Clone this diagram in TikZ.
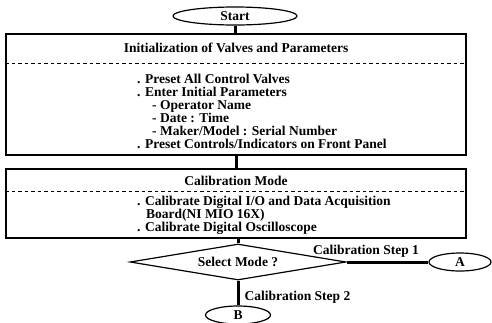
\documentclass[tikz,border=0pt]{standalone}
\usepackage{fontspec}
\setmainfont{Liberation Serif}
\usetikzlibrary{shapes.geometric}
\tikzstyle{procbox}=[
        draw,
        line width=1.4pt,
        minimum width=460pt,
        inner sep=0pt
]
\tikzstyle{terminal}=[
        draw,
        ellipse,
        line width=1.2pt,
        inner sep=0pt
]
\tikzstyle{link}=[
        line width=3pt
]
\tikzstyle{cutline}=[
        line width=1.1pt,
        dash pattern=on 3.5pt off 3pt
]

\begin{document}
\begin{tikzpicture}[x=1pt, y=-1pt, font=\fontsize{13.5}{13}\selectfont\bfseries]
                        \useasboundingbox (0,0) rectangle (492,322);

                        \node[terminal, minimum width=124pt, minimum height=18pt] (start) at (235,16) {Start};

                        % first block
                        \node[procbox, minimum height=121pt] (init) at (236,94.5) {};
                        \node (inittitle) at (236,48) {Initialization of Valves and Parameters};
                        \path (init.north west) ++(0,30) coordinate (cut1);
                        \draw[cutline] (cut1) -- (cut1 -| init.east);
                        \node[anchor=west, align=left, inner sep=0pt] (initlist) at (137,111) {%
                            . Preset All Control Valves\\
                            . Enter Initial Parameters\\
                            \hspace*{15pt}- Operator Name\\
                            \hspace*{15pt}- Date : Time\\
                            \hspace*{15pt}- Maker/Model : Serial Number\\
                            . Preset Controls/Indicators on Front Panel};

                        % second block
                        \node[procbox, minimum height=69pt] (calib) at (236,203.5) {};
                        \node (calibtitle) at (236,181) {Calibration Mode};
                        \path (calib.north west) ++(0,23) coordinate (cut2);
                        \draw[cutline] (cut2) -- (cut2 -| calib.east);
                        \node[anchor=west, align=left, inner sep=0pt] (caliblist) at (137,215) {%
                            . Calibrate Digital I/O and Data Acquisition\\
                            \hspace*{9pt}Board(NI MIO 16X)\\
                            . Calibrate Digital Oscilloscope};

                        \node[draw, diamond, line width=1.2pt, inner sep=0pt, aspect=6,
                              minimum width=216pt, minimum height=36pt] (mode) at (238,262) {Select Mode ?};

                        \node[terminal, minimum width=62pt, minimum height=18pt] (stepA) at (460,262) {A};
                        \node[terminal, minimum width=65pt, minimum height=18pt] (stepB) at (238,315) {B};

                        \draw[link] (start.south) -- (start.south |- init.north);
                        \draw[link] (init.south) -- (calib.north);
                        \draw[link] (mode.north |- calib.south) -- (mode.north);
                        \draw[link] (mode.east) -- (stepA.west);
                        \draw[link] (mode.south) -- (stepB.north);

                        \node (step1) at (366,251) {Calibration Step 1};
                        \node[anchor=west] (step2) at (241,297) {Calibration Step 2};
\end{tikzpicture}
\end{document}
